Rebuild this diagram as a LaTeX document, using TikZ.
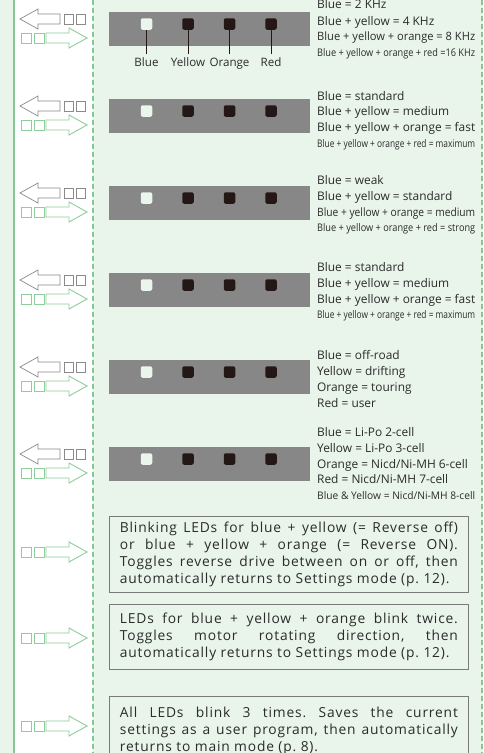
\documentclass[tikz,border=0pt]{standalone}
\usepackage{fontspec}
\setmainfont{Open Sans}
\newfontfamily\boxfont[LetterSpace=6]{Open Sans}
\newcommand{\fitrow}[1]{\resizebox{158pt}{\height}{#1}}

\definecolor{bgGreen}{HTML}{E9F4EB}
\definecolor{lineGreen}{HTML}{86C894}
\definecolor{barGray}{HTML}{878787}
\definecolor{ledDark}{HTML}{231815}
\definecolor{ledLight}{HTML}{EAF5EC}
\definecolor{arrowGray}{HTML}{8A8A8A}
\definecolor{arrowGreen}{HTML}{8ECE9A}
\definecolor{boxGray}{HTML}{7A7A7A}
\definecolor{txtGray}{HTML}{2B2B2B}

\tikzset{
    led/.style={rectangle, rounded corners=2pt, minimum size=11.5pt,
        inner sep=0pt, fill=ledDark},
    ledon/.style={led, fill=ledLight},
    ledlabel/.style={anchor=base, inner xsep=0pt, inner ysep=3pt,
        text=txtGray, font=\fontsize{11.6}{15}\selectfont},
    bigtxt/.style={anchor=base west, inner sep=0pt, text=txtGray,
        font=\fontsize{11.9}{15}\selectfont},
    midtxt/.style={anchor=base west, inner sep=0pt, text=txtGray,
        font=\fontsize{11.5}{14}\selectfont},
    smalltxt/.style={anchor=base west, inner sep=0pt, text=txtGray,
        font=\fontsize{10.5}{13}\selectfont},
    infobox/.style={draw=boxGray, line width=0.8pt, anchor=north west,
        text width=338pt, inner xsep=10.5pt, align=justify, text=txtGray,
        font=\boxfont\fontsize{13.8}{17}\selectfont\frenchspacing},
    backarrow/.pic={
        \draw[arrowGray, line width=0.7pt]
            (0,0) -- (18,-10) -- (18,-5) -- (40,-5) -- (40,5) -- (18,5) -- (18,10) -- cycle;
        \draw[arrowGray, line width=0.7pt]
            (44,-5) rectangle (53,5) (56,-5) rectangle (65,5);
    },
    fwdarrow/.pic={
        \draw[arrowGreen, line width=0.9pt]
            (0,0) -- (-18,-10) -- (-18,-5) -- (-41,-5) -- (-41,5) -- (-18,5) -- (-18,10) -- cycle;
        \draw[arrowGreen, line width=0.9pt]
            (-66,-5) rectangle (-56,5) (-53,-5) rectangle (-43,5);
    },
}

\begin{document}
\begin{tikzpicture}[x=1pt, y=-1pt]
    \useasboundingbox (0,0) rectangle (483,753);
    % background strips
    \fill[bgGreen] (0,0) rectangle (483,753);
    \fill[white] (14,0) rectangle (93,753);
    \draw[lineGreen, line width=1.3pt] (14,0) -- (14,753);
    \draw[lineGreen, line width=1.3pt, dash pattern=on 5pt off 3pt]
        (93,0) -- (93,753);
    \draw[lineGreen, line width=1.3pt, dash pattern=on 5pt off 3pt]
        (482,0) -- (482,753);

    % LED bars with key arrows
    \foreach \t [count=\i] in {12,99,186,273,360,447} {
        \fill[barGray] (109,\t) rectangle (310,\t+34);
        \node[ledon] (blue\i) at (146.5,\t+12) {};
        \node[led] (yellow\i) at (188,\t+12) {};
        \node[led] (orange\i) at (229.5,\t+12) {};
        \node[led] (red\i) at (271,\t+12) {};
        \pic at (20,\t+7) {backarrow};
        \pic at (87,\t+26) {fwdarrow};
    }

    % LED names
    \node[ledlabel] (lblBlue) at (146.5,66) {Blue};
    \node[ledlabel] (lblYellow) at (188,66) {Yellow};
    \node[ledlabel] (lblOrange) at (229.5,66) {Orange};
    \node[ledlabel] (lblRed) at (271,66) {Red};
    \draw[ledDark, line width=0.8pt] (blue1.south) -- (lblBlue.north);
    \draw[ledDark, line width=0.8pt] (yellow1.south) -- (lblYellow.north);
    \draw[ledDark, line width=0.8pt] (orange1.south) -- (lblOrange.north);
    \draw[ledDark, line width=0.8pt] (red1.south) -- (lblRed.north);

    % settings texts
    \node[bigtxt] (freqA) at (317,8.3) {Blue = 2 KHz};
    \node[bigtxt] (freqB) at (317,25) {Blue + yellow = 4 KHz};
    \node[midtxt] (freqC) at (317,40.7) {\fitrow{Blue + yellow + orange = 8 KHz}};
    \node[smalltxt] (freqD) at (317,56.7) {\fitrow{Blue + yellow + orange + red =16 KHz}};

    \node[bigtxt] (punchA) at (317,100) {Blue = standard};
    \node[bigtxt] (punchB) at (317,115.5) {Blue + yellow = medium};
    \node[bigtxt] (punchC) at (317,131) {Blue + yellow + orange = fast};
    \node[smalltxt] (punchD) at (317,147) {\fitrow{Blue + yellow + orange + red = maximum}};

    \node[bigtxt] (brakeA) at (317,184) {Blue = weak};
    \node[bigtxt] (brakeB) at (317,200) {Blue + yellow = standard};
    \node[midtxt] (brakeC) at (317,216) {\fitrow{Blue + yellow + orange = medium}};
    \node[smalltxt] (brakeD) at (317,231) {\fitrow{Blue + yellow + orange + red = strong}};

    \node[bigtxt] (rampA) at (317,271) {Blue = standard};
    \node[bigtxt] (rampB) at (317,287) {Blue + yellow = medium};
    \node[bigtxt] (rampC) at (317,303) {Blue + yellow + orange = fast};
    \node[smalltxt] (rampD) at (317,318) {\fitrow{Blue + yellow + orange + red = maximum}};

    \node[bigtxt] (progA) at (317,359) {Blue = off-road};
    \node[bigtxt] (progB) at (317,375) {Yellow = drifting};
    \node[bigtxt] (progC) at (317,391) {Orange = touring};
    \node[bigtxt] (progD) at (317,407) {Red = user};

    \node[bigtxt] (cellA) at (317,436) {Blue = Li-Po 2-cell};
    \node[bigtxt] (cellB) at (317,452) {Yellow = Li-Po 3-cell};
    \node[bigtxt] (cellC) at (317,468) {Orange = Nicd/Ni-MH 6-cell};
    \node[bigtxt] (cellD) at (317,483) {Red = Nicd/Ni-MH 7-cell};
    \node[smalltxt] (cellE) at (317,499) {\fitrow{Blue \& Yellow = Nicd/Ni-MH 8-cell}};

    % action boxes
    \node[infobox, minimum height=76pt] (reverse) at (109,516)
        {Blinking LEDs for blue + yellow (= Reverse off)\linebreak
        or blue + yellow + orange (= Reverse ON).\linebreak
        Toggles reverse drive between on or off, then\linebreak
        automatically returns to Settings mode (p.~12).};
    \node[infobox, minimum height=65pt] (motor) at (109,604)
        {LEDs for blue + yellow + orange blink twice.\linebreak
        Toggles motor rotating direction, then\linebreak
        automatically returns to Settings mode (p.~12).};
    \node[infobox, minimum height=70pt, inner ysep=4pt] (save) at (109,696)
        {All LEDs blink 3 times. Saves the current\linebreak
        settings as a user program, then automatically\linebreak
        returns to main mode (p.~8).};
    \pic at (87,552) {fwdarrow};
    \pic at (87,638) {fwdarrow};
    \pic at (87,726) {fwdarrow};
\end{tikzpicture}
\end{document}
